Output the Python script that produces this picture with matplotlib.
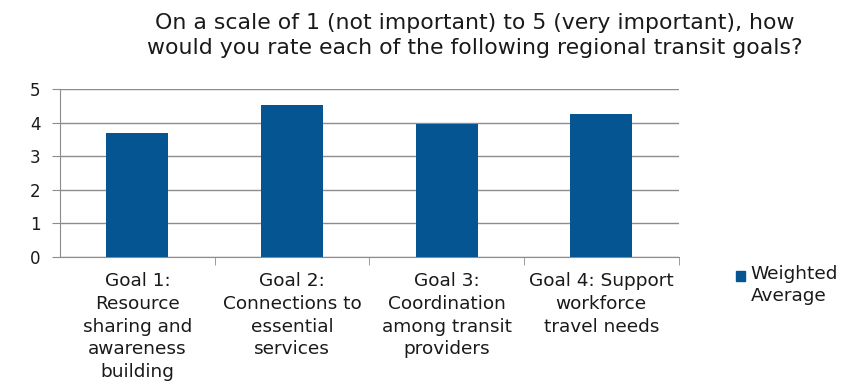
import matplotlib.pyplot as plt

# survey results
goals = ['Goal 1:\nResource\nsharing and\nawareness\nbuilding',
         'Goal 2:\nConnections to\nessential\nservices',
         'Goal 3:\nCoordination\namong transit\nproviders',
         'Goal 4: Support\nworkforce\ntravel needs']
weighted_avg = [3.68, 4.54, 3.97, 4.26]
yticks = [0, 1, 2, 3, 4, 5]

plt.rcParams['font.family'] = ['DejaVu Sans']
bar_color = '#045592'
txt_color = '#1a1a1a'

fig = plt.figure(figsize=(8.65, 3.86), dpi=100)
ax = fig.add_axes([0.0694, 0.334, 0.715, 0.435])

x = list(range(len(goals)))
bars = ax.bar(x, weighted_avg, width=0.40, color=bar_color, zorder=3)

ax.set_xlim(-0.5, len(goals) - 0.5)
ax.set_ylim(0, 5)
ax.set_yticks(yticks)
ax.set_yticklabels([str(v) for v in yticks], fontsize=12, color=txt_color)
ax.yaxis.grid(True, color='#8c8c8c', linewidth=1.0, zorder=0)

# category labels sit between boundary ticks
ax.set_xticks(x)
ax.set_xticklabels(goals, fontsize=13.3, color=txt_color, linespacing=1.33,
                   va='top')
ax.tick_params(axis='x', length=0, pad=11)
ax.set_xticks([i + 0.5 for i in x], minor=True)
ax.tick_params(axis='x', which='minor', length=6, color='#8c8c8c')
ax.tick_params(axis='y', length=6, color='#8c8c8c', pad=8)

for s in ['top', 'right']:
    ax.spines[s].set_visible(False)
for s in ['left', 'bottom']:
    ax.spines[s].set_color('#8c8c8c')

fig.text(0.549, 0.907, 'On a scale of 1 (not important) to 5 (very important), how\n'
         'would you rate each of the following regional transit goals?',
         ha='center', va='center', fontsize=15.8, color=txt_color,
         linespacing=1.3)

# legend drawn by hand: square beside first line of the label
fig.patches.append(plt.Rectangle((0.851, 0.273), 0.0105, 0.024,
                                 transform=fig.transFigure,
                                 color=bar_color, figure=fig))
fig.text(0.868, 0.219, 'Weighted\nAverage', ha='left', va='baseline',
         fontsize=13.3, color=txt_color, linespacing=1.3)

fig.savefig('out.png')
